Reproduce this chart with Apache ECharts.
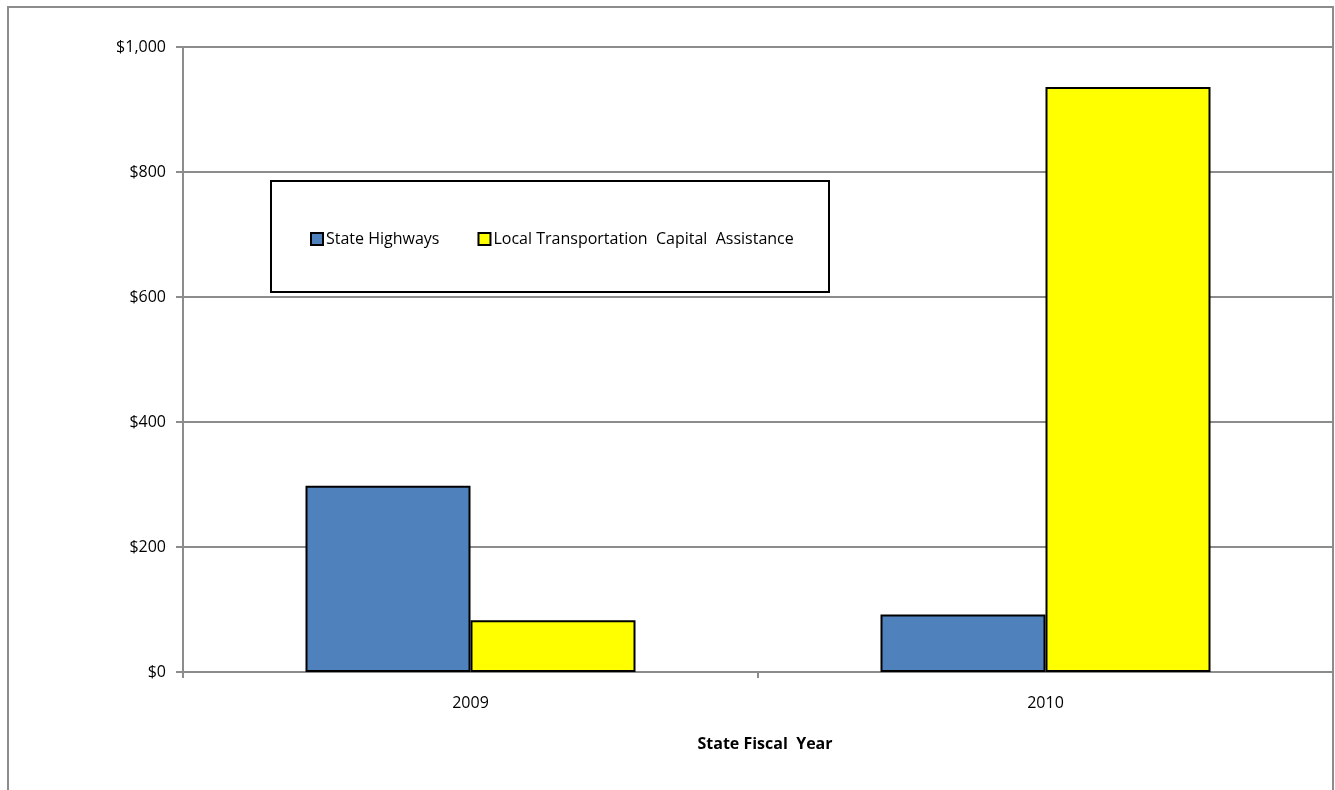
<!DOCTYPE html>
<html>
<head>
<meta charset="utf-8">
<script src="https://cdn.jsdelivr.net/npm/echarts@6/dist/echarts.min.js"></script>
<style>
  html, body { margin: 0; padding: 0; background: #fff; }
  #chart { width: 1335px; height: 790px; }
</style>
</head>
<body>
<div id="chart"></div>
<script>
// Fiscal years on the category axis
const years = ['2009', '2010'];
// Spending in millions of dollars
const stateHighways = [298, 92];
const localTransit = [83, 936];
const seriesNames = ['State Highways', 'Local Transportation  Capital  Assistance'];

const chart = echarts.init(document.getElementById('chart'));
const font = '"Open Sans", "Liberation Sans", sans-serif';

chart.setOption({
  animation: false,
  backgroundColor: '#fff',
  graphic: [
    {
      type: 'rect', silent: true, z: 0,
      shape: { x: 8, y: 7, width: 1325, height: 790 },
      style: { fill: 'none', stroke: '#8c8c8c', lineWidth: 2 }
    },
    {
      type: 'rect', silent: true, z: 10,
      shape: { x: 271, y: 181, width: 558, height: 111 },
      style: { fill: '#fff', stroke: '#000', lineWidth: 2 }
    }
  ],
  legend: {
    left: 305, top: 226, z: 20,
    itemWidth: 12, itemHeight: 12, itemGap: 38,
    icon: 'rect',
    textStyle: { fontFamily: font, fontSize: 16, color: '#000', padding: [0, 0, 0, -2] },
    data: seriesNames
  },
  grid: { left: 183, right: 2, top: 47, bottom: 118, containLabel: false },
  xAxis: {
    type: 'category',
    data: years,
    name: 'State Fiscal  Year',
    nameLocation: 'middle',
    nameGap: 64,
    nameTextStyle: { fontFamily: font, fontSize: 16, fontWeight: 'bold', color: '#000', padding: [0, 0, 0, 14] },
    axisLine: { lineStyle: { color: '#8c8c8c', width: 2 } },
    axisTick: { show: true, length: 6, lineStyle: { color: '#8c8c8c', width: 2 } },
    axisLabel: { fontFamily: font, fontSize: 16, color: '#000', margin: 23 }
  },
  yAxis: {
    type: 'value',
    min: 0, max: 1000, interval: 200,
    axisLine: { show: true, lineStyle: { color: '#8c8c8c', width: 2 } },
    axisTick: { show: true, length: 7, lineStyle: { color: '#8c8c8c', width: 2 } },
    splitLine: { lineStyle: { color: '#8c8c8c', width: 2 } },
    axisLabel: {
      fontFamily: font, fontSize: 16, color: '#000', margin: 17,
      formatter: v => '$' + v.toLocaleString('en-US')
    }
  },
  series: [
    {
      name: seriesNames[0], type: 'bar', data: stateHighways,
      barWidth: 165, barGap: '0%',
      itemStyle: { color: '#4f81bd', borderColor: '#000', borderWidth: 2 }
    },
    {
      name: seriesNames[1], type: 'bar', data: localTransit,
      barWidth: 165, barGap: '0%',
      itemStyle: { color: '#ffff00', borderColor: '#000', borderWidth: 2 }
    }
  ]
});
</script>
</body>
</html>
